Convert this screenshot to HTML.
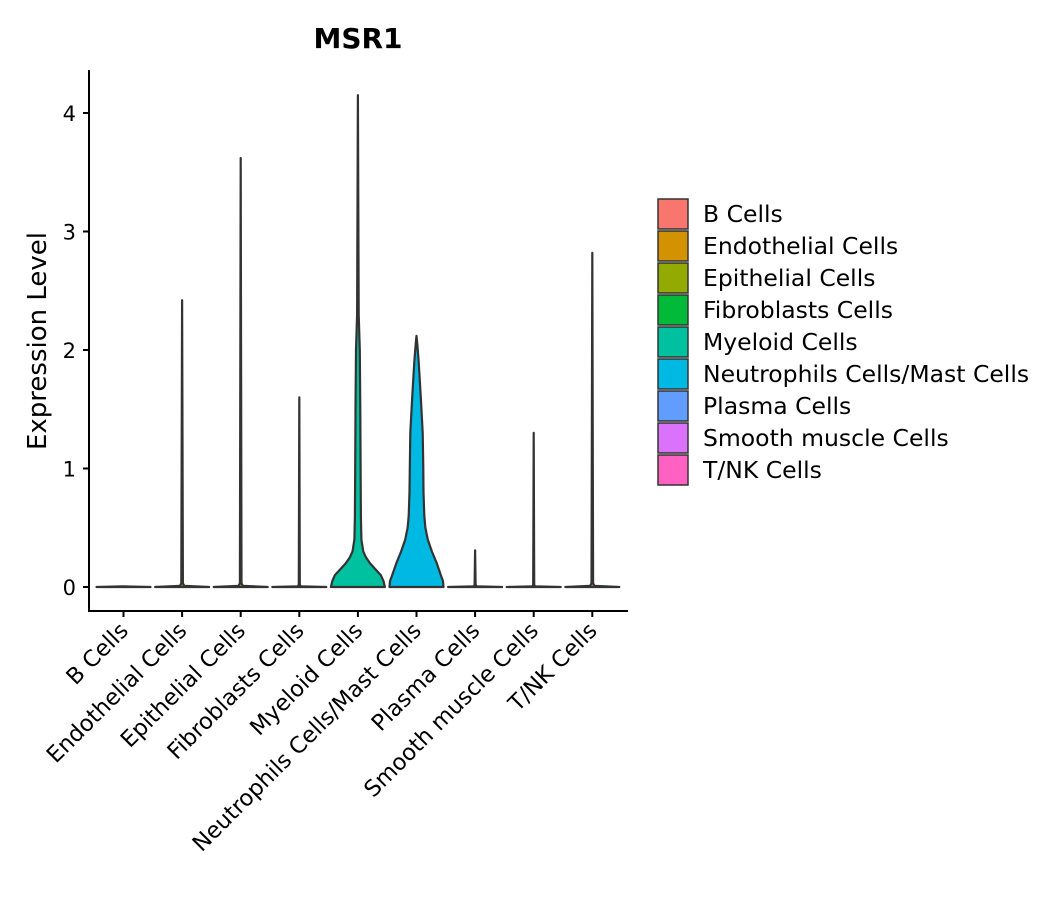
<!DOCTYPE html>
<html><head><meta charset="utf-8"><style>
body{margin:0;background:#fff;}
svg text{font-family:"DejaVu Sans","Liberation Sans",sans-serif;}
</style></head><body>
<svg width="1057" height="900" id="chart">
<text x="358" y="48" text-anchor="middle" font-size="28" font-weight="bold">MSR1</text>
<text transform="translate(46,341) rotate(-90)" text-anchor="middle" font-size="26">Expression Level</text>
<g id="plot"></g>
<g id="legend"></g>
</svg>
<script>
const categories=["B Cells","Endothelial Cells","Epithelial Cells","Fibroblasts Cells","Myeloid Cells","Neutrophils Cells/Mast Cells","Plasma Cells","Smooth muscle Cells","T/NK Cells"];
const colors=["#F8766D","#D39200","#93AA00","#00BA38","#00C19F","#00B9E3","#619CFF","#DB72FB","#FF61C3"];
const maxValues=[0,2.42,3.62,1.6,4.15,2.12,0.31,1.3,2.82];
const profileY=[
 [0,0.005],
 [0,0.01,0.03],
 [0,0.01,0.03],
 [0,0.005,0.02],
 [0,0.05,0.1,0.15,0.2,0.25,0.3,0.4,0.6,1.0,1.5,2.0,2.3],
 [0,0.05,0.1,0.2,0.3,0.4,0.5,0.6,0.8,1.0,1.3,1.6,1.9,2.05],
 [0,0.005,0.02],
 [0,0.005,0.02],
 [0,0.01,0.03]];
const profileW=[
 [1,0.02],
 [1,0.08,0.03],
 [1,0.08,0.03],
 [1,0.06,0.02],
 [1,0.95,0.85,0.65,0.45,0.3,0.2,0.13,0.11,0.1,0.09,0.07,0.03],
 [1,0.98,0.9,0.75,0.57,0.42,0.33,0.29,0.26,0.25,0.23,0.16,0.08,0.03],
 [1,0.05,0.02],
 [1,0.05,0.02],
 [1,0.08,0.03]];
const yTicks=[0,1,2,3,4];
const NS="http://www.w3.org/2000/svg";
const x0=123.5,step=58.6,halfMax=27;
const xs=i=>x0+i*step;
const ys=v=>587-v*118.5;
const plot=document.getElementById('plot');
function mk(t,a,p){const e=document.createElementNS(NS,t);for(const k in a)e.setAttribute(k,a[k]);(p||plot).appendChild(e);return e;}
let ax=mk('line',{x1:89,y1:70,x2:89,y2:611,stroke:'#000','stroke-width':2});


let bx=mk('line',{x1:88,y1:611,x2:628,y2:611,stroke:'#000','stroke-width':2});


yTicks.forEach(t=>{
 mk('line',{x1:83,x2:89,y1:ys(t),y2:ys(t),stroke:'#000','stroke-width':2});
 const tx=mk('text',{x:76,y:ys(t)+8,'text-anchor':'end','font-size':21});
 tx.textContent=t;
 
 
});
categories.forEach((c,i)=>{
 const x=xs(i);
 mk('line',{x1:x,x2:x,y1:611,y2:617,stroke:'#000','stroke-width':2});
 const tx=mk('text',{transform:`translate(${x+6},${632}) rotate(-45)`,'text-anchor':'end','font-size':22.5});
 tx.textContent=c;
 
 
 const py=profileY[i].concat([maxValues[i]]),pw=profileW[i].concat([0]);
 let r=[],l=[];
 for(let k=0;k<py.length;k++){r.push([x+pw[k]*halfMax,ys(py[k])]);l.push([x-pw[k]*halfMax,ys(py[k])]);}
 const pts=r.concat(l.reverse());
 const d='M'+pts.map(p=>p[0].toFixed(1)+','+p[1].toFixed(1)).join('L')+'Z';
 const v=mk('path',{d:d,fill:colors[i],stroke:'#333','stroke-width':2.2,'stroke-linejoin':'round'});
 
 
});
const lg=document.getElementById('legend');
categories.forEach((c,i)=>{
 const y=198+i*32;
 const r=mk('rect',{x:658,y:y+1,width:30,height:30,fill:colors[i],stroke:'#333','stroke-width':1.5},lg);
 
 
 const t=mk('text',{x:703,y:y+24,'font-size':23.5},lg);
 t.textContent=c;
 
 
});
</script>
</body></html>
